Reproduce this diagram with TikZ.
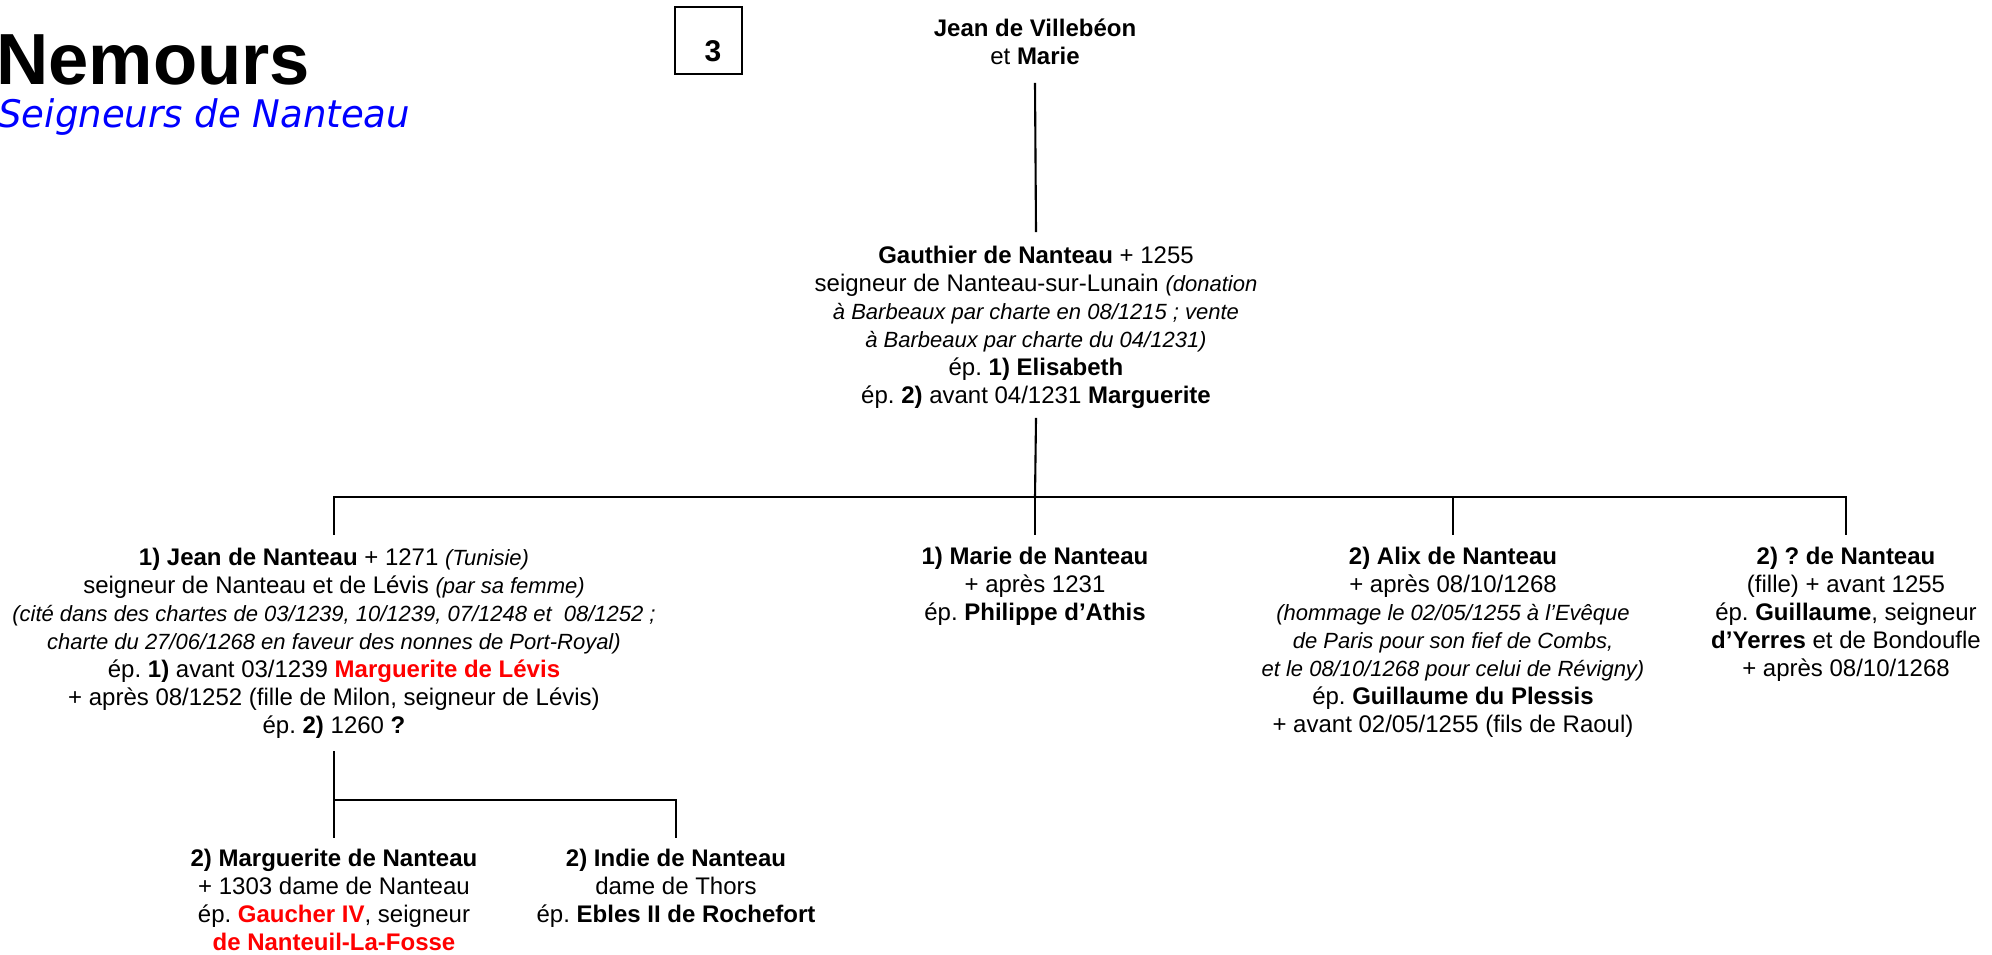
\documentclass[tikz,border=0pt]{standalone}
\usepackage{fontspec}
\setmainfont{Liberation Sans}
\newfontfamily\subfont[FakeStretch=0.975]{DejaVu Sans}
\newcommand\ita[1]{{\fontsize{11}{14}\selectfont\itshape #1}}
\newcommand\rdb[1]{\textcolor{red}{\textbf{#1}}}
\frenchspacing
\begin{document}
\begin{tikzpicture}[
  x=0.5pt, y=-0.5pt,
  person/.style={align=center, inner sep=0pt, anchor=north, font=\fontsize{12}{14}\selectfont},
  conn/.style={line width=1.05pt, line cap=rect},
]
\useasboundingbox (0,0) rectangle (1992,954);

% titles
\node[font=\fontsize{36.2}{40}\selectfont\bfseries, anchor=base west, inner sep=0pt] (title) at (-4,84) {Nemours};
\node[font=\subfont\itshape\fontsize{19}{22}\selectfont, text=blue, anchor=base west, inner sep=0pt] (subtitle) at (-2,127) {Seigneurs de Nanteau};
\node[draw, line width=0.6pt, minimum width=33.5pt, minimum height=33.5pt, inner sep=0pt] (box) at (708.5,40.5) {};
\node[font=\fontsize{15}{17}\selectfont\bfseries, inner sep=0pt] (boxnum) at (713,51) {3};

% persons
\node[person] (top) at (1035,18) {\textbf{Jean de Villebéon}\\ et \textbf{Marie}};

\node[person] (gauthier) at (1036,246) {\textbf{Gauthier de Nanteau} + 1255\\
seigneur de Nanteau-sur-Lunain \ita{(donation}\\
\ita{à Barbeaux par charte en 08/1215 ; vente}\\
\ita{à Barbeaux par charte du 04/1231)}\\
ép. \textbf{1) Elisabeth}\\
ép. \textbf{2)} avant 04/1231 \textbf{Marguerite}};

\node[person] (jean) at (334,548) {\textbf{1) Jean de Nanteau} + 1271 \ita{(Tunisie)}\\
seigneur de Nanteau et de Lévis \ita{(par sa femme)}\\
\ita{(cité dans des chartes de 03/1239, 10/1239, 07/1248 et\ \ 08/1252 ;}\\
\ita{charte du 27/06/1268 en faveur des nonnes de Port-Royal)}\\
ép. \textbf{1)} avant 03/1239 \rdb{Marguerite de Lévis}\\
+ après 08/1252 (fille de Milon, seigneur de Lévis)\\
ép. \textbf{2)} 1260 \textbf{?}};

\node[person] (marie) at (1035,547) {\textbf{1) Marie de Nanteau}\\
+ après 1231\\
ép. \textbf{Philippe d’Athis}};

\node[person] (alix) at (1453,547) {\textbf{2) Alix de Nanteau}\\
+ après 08/10/1268\\
\ita{(hommage le 02/05/1255 à l’Evêque}\\
\ita{de Paris pour son fief de Combs,}\\
\ita{et le 08/10/1268 pour celui de Révigny)}\\
ép. \textbf{Guillaume du Plessis}\\
+ avant 02/05/1255 (fils de Raoul)};

\node[person] (qn) at (1846,547) {\textbf{2) ? de Nanteau}\\
(fille) + avant 1255\\
ép. \textbf{Guillaume}, seigneur\\
\textbf{d’Yerres} et de Bondoufle\\
+ après 08/10/1268};

\node[person] (marg) at (334,849) {\textbf{2) Marguerite de Nanteau}\\
+ 1303 dame de Nanteau\\
ép. \rdb{Gaucher IV}, seigneur\\
\rdb{de Nanteuil-La-Fosse}};

\node[person] (indie) at (676,849) {\textbf{2) Indie de Nanteau}\\
dame de Thors\\
ép. \textbf{Ebles II de Rochefort}};

% connectors
\coordinate (b1) at (1035,497);
\coordinate (b2) at (334,800);
\draw[conn] (top.south |- 0,84) -- (gauthier.north |- 0,231);
\draw[conn] (gauthier.south |- 0,419) -- (b1);
\draw[conn] (jean.north |- 0,534) -- (jean.north |- b1) -- (qn.north |- b1) -- (qn.north |- 0,534);
\draw[conn] (marie.north |- b1) -- (marie.north |- 0,534);
\draw[conn] (alix.north |- b1) -- (alix.north |- 0,534);
\draw[conn] (jean.south |- 0,752) -- (b2);
\draw[conn] (marg.north |- 0,837) -- (marg.north |- b2) -- (indie.north |- b2) -- (indie.north |- 0,837);
\end{tikzpicture}
\end{document}
